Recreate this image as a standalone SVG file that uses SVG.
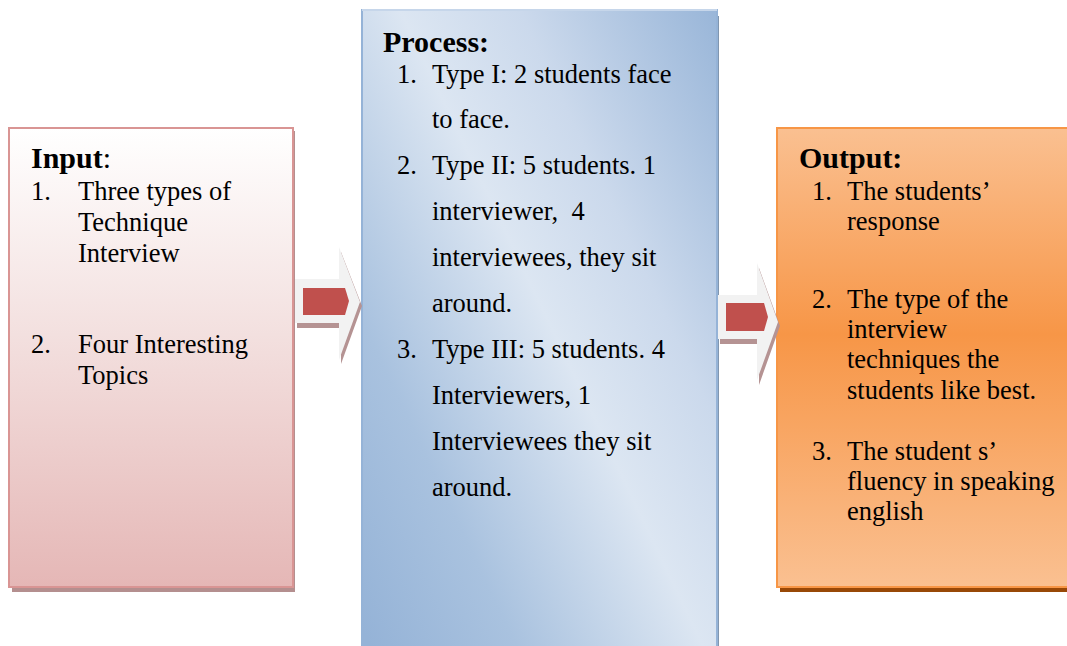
<svg xmlns="http://www.w3.org/2000/svg" width="1067" height="646" viewBox="0 0 1067 646">
  <style>
    .t { font-family: "Liberation Serif", "Times New Roman", serif; font-size: 26.5px; fill: #000; }
    .h { font-family: "Liberation Serif", "Times New Roman", serif; font-size: 30px; font-weight: bold; fill: #000; }
    .arrow-bg { fill: #f2f2f2; }
    .arrow-sh { fill: #b59393; }
    .arrow-core { fill: #c0504d; }
  </style>
  <defs>
    <linearGradient id="gInput" x1="0" y1="0" x2="0" y2="1">
      <stop offset="0" stop-color="#ffffff"/>
      <stop offset="0.45" stop-color="#f3e0df"/>
      <stop offset="1" stop-color="#e5b7b6"/>
    </linearGradient>
    <linearGradient id="gProcess" gradientUnits="userSpaceOnUse" x1="279" y1="454" x2="821" y2="196">
      <stop offset="0" stop-color="#95b3d7"/>
      <stop offset="0.22" stop-color="#a9c2df"/>
      <stop offset="0.5" stop-color="#dce6f2"/>
      <stop offset="0.68" stop-color="#cbd9ec"/>
      <stop offset="1" stop-color="#95b3d7"/>
    </linearGradient>
    <linearGradient id="gOutput" x1="0" y1="0" x2="0" y2="1">
      <stop offset="0" stop-color="#fac091"/>
      <stop offset="0.45" stop-color="#f79647"/>
      <stop offset="1" stop-color="#fac091"/>
    </linearGradient>
  </defs>

  <rect width="1067" height="646" fill="#ffffff"/>

  <!-- Input -->
  <g id="input">
    <rect x="12" y="131" width="283" height="461" fill="#b48f8f"/>
    <rect x="9" y="128" width="284" height="459" fill="url(#gInput)" stroke="#d99594" stroke-width="2"/>
    <text class="h" x="31" y="168">Input<tspan font-weight="normal">:</tspan></text>
    <text class="t" x="31" y="200">1.</text>
    <text class="t" x="78" y="200">Three types of</text>
    <text class="t" x="78" y="231">Technique</text>
    <text class="t" x="78" y="262">Interview</text>
    <text class="t" x="31" y="353">2.</text>
    <text class="t" x="78" y="353">Four Interesting</text>
    <text class="t" x="78" y="384">Topics</text>
  </g>

  <!-- Process -->
  <g id="process">
    <rect x="364" y="16" width="355" height="650" fill="#8096b0"/>
    <rect x="362" y="10" width="355" height="660" fill="url(#gProcess)" stroke="#95b3d7" stroke-width="2"/>
    <line x1="362" y1="10" x2="717" y2="10" stroke="#c6d6ea" stroke-width="2"/>
    <text class="h" x="383" y="52">Process:</text>
    <text class="t" x="397" y="83">1.</text>
    <text class="t" x="432" y="83">Type I: 2 students face</text>
    <text class="t" x="432" y="128">to face.</text>
    <text class="t" x="397" y="174">2.</text>
    <text class="t" x="432" y="174">Type II: 5 students. 1</text>
    <text class="t" x="432" y="220" xml:space="preserve">interviewer,  4</text>
    <text class="t" x="432" y="266">interviewees, they sit</text>
    <text class="t" x="432" y="312">around.</text>
    <text class="t" x="397" y="358">3.</text>
    <text class="t" x="432" y="358">Type III: 5 students. 4</text>
    <text class="t" x="432" y="404">Interviewers, 1</text>
    <text class="t" x="432" y="450">Interviewees they sit</text>
    <text class="t" x="432" y="496">around.</text>
  </g>

  <!-- Output -->
  <g id="output">
    <rect x="780" y="131" width="300" height="461" fill="#984807"/>
    <rect x="777" y="128" width="300" height="459" fill="url(#gOutput)" stroke="#f79646" stroke-width="2"/>
    <text class="h" x="799" y="168">Output:</text>
    <text class="t" x="812" y="200">1.</text>
    <text class="t" x="847" y="200">The students’</text>
    <text class="t" x="847" y="230">response</text>
    <text class="t" x="812" y="308">2.</text>
    <text class="t" x="847" y="308">The type of the</text>
    <text class="t" x="847" y="338">interview</text>
    <text class="t" x="847" y="368">techniques the</text>
    <text class="t" x="847" y="399">students like best.</text>
    <text class="t" x="812" y="460">3.</text>
    <text class="t" x="847" y="460">The student s’</text>
    <text class="t" x="847" y="490">fluency in speaking</text>
    <text class="t" x="847" y="520">english</text>
  </g>

  <!-- Connectors: block arrows between the stages -->
  <g id="connectors">
    <g id="arrow-input-process">
      <polygon class="arrow-sh" points="297,284 341,284 341,252 362,306 341,364 341,328 297,328"/>
      <polygon class="arrow-bg" points="295,279 339,279 339,247 360,302 339,360 339,323 295,323"/>
      <polygon class="arrow-core" points="303,288 345,288 349,301 345,315 303,315"/>
    </g>
    <g id="arrow-process-output">
      <polygon class="arrow-sh" points="720,300 759,300 759,268 780,326 759,385 759,344 720,344"/>
      <polygon class="arrow-bg" points="718,295 757,295 757,263 778,322 757,380 757,339 718,339"/>
      <polygon class="arrow-core" points="726,303 764,303 768,317 764,331 726,331"/>
    </g>
  </g>
</svg>
